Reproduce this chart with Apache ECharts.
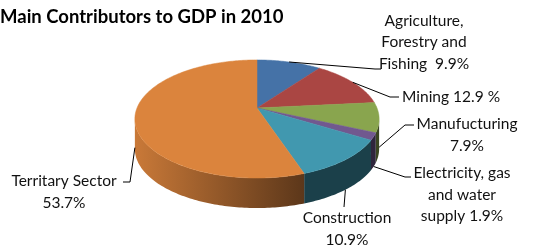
<!DOCTYPE html>
<html>
<head>
    <meta charset="utf-8">
    <script src="https://cdn.jsdelivr.net/npm/echarts@6/dist/echarts.min.js"></script>
    <style>
        *{
            margin:0;
            padding:0;
        }
        body{ background:#fff; }
    </style>
</head>
<body>
    <div id="main" style="width: 546px;height:245px;"></div>
    <script type="text/javascript">

    // data
    var names = ['Agriculture,\nForestry and\nFishing  ', 'Mining ', 'Manufucturing\n', 'Electricity, gas\nand water\nsupply ', 'Construction\n', 'Territary Sector\n'];
    var values = [9.9, 12.9, 7.9, 1.9, 10.9, 53.7];
    var suffix = ['%', ' %', '%', '%', '%', '%'];
    var colors = ['#4572a7', '#aa4643', '#89a54e', '#71588f', '#4198af', '#db843d'];

    // layout of the fake 3d pie (perspective ellipse)
    var CX = 257, CY = 108, RX = 120, RY = 57, K = 0.186, DEPTH = 30;
    var FONT = 'Lato';

    // label boxes: center of text block, leader elbow and end
    var labelPos = [[424, 42], [402, 97], [467, 135], [462, 194.5], [347, 229], [64, 192]];
    var labelAlign = ['center', 'left', 'center', 'center', 'center', 'center'];
    var elbows = [[375, 69], [390, 97], [405, 125], [405, 177], [344, 207], [130, 182]];
    var ends = [[381, 69], [399, 97], [414, 125], [411, 177], [344, 207], [123, 182]];

    var total = values.reduce(function (a, b) { return a + b; }, 0);
    var angles = [];
    var acc = 0;
    values.forEach(function (v) {
        var a0 = acc / total * Math.PI * 2;
        acc += v;
        angles.push([a0, acc / total * Math.PI * 2]);
    });

    // angle measured clockwise from 12 o'clock
    function pt(t, dy) {
        var u = Math.sin(t), v = Math.cos(t);
        var d = 1 + K * v;
        return [CX + RX * u / d, CY - RY * v / d + (dy || 0)];
    }
    function arc(t0, t1, dy) {
        var pts = [];
        var n = Math.max(2, Math.ceil((t1 - t0) / (Math.PI / 180)));
        for (var i = 0; i <= n; i++) {
            pts.push(pt(t0 + (t1 - t0) * i / n, dy));
        }
        return pts;
    }
    function shade(hex, f) {
        var c = echarts.color.parse(hex);
        return 'rgb(' + Math.round(c[0] * f) + ',' + Math.round(c[1] * f) + ',' + Math.round(c[2] * f) + ')';
    }
    function shadeAt(x) {
        // lighter on the left of the rim, dark on the right
        var f = 0.92 - (x - 135) / (300 - 135) * 0.5;
        return Math.max(0.42, Math.min(0.92, f));
    }

    var visFrom = Math.acos(-K), visTo = Math.PI * 2 - Math.acos(-K);

    function renderSide(params, api) {
        var i = params.dataIndex;
        var t0 = Math.max(angles[i][0], visFrom), t1 = Math.min(angles[i][1], visTo);
        if (t1 <= t0) return;
        var top = arc(t0, t1, 0);
        var bot = arc(t0, t1, DEPTH).reverse();
        var xs = top.map(function (p) { return p[0]; });
        var x0 = Math.min.apply(null, xs), x1 = Math.max.apply(null, xs);
        var cL = shade(colors[i], shadeAt(x0)), cR = shade(colors[i], shadeAt(x1));
        return {
            type: 'polygon',
            shape: { points: top.concat(bot) },
            style: {
                fill: new echarts.graphic.LinearGradient(x0, 0, x1, 0, [
                    { offset: 0, color: cL }, { offset: 1, color: cR }
                ], true)
            }
        };
    }

    function renderTop(params, api) {
        var i = params.dataIndex;
        var pts = [[CX, CY]].concat(arc(angles[i][0], angles[i][1], 0));
        return {
            type: 'polygon',
            shape: { points: pts },
            style: { fill: colors[i], stroke: colors[i], lineWidth: 0.5 }
        };
    }

    function renderLabel(params, api) {
        var i = params.dataIndex;
        var mid = (angles[i][0] + angles[i][1]) / 2;
        var s = pt(mid, Math.cos(mid) < 0 ? DEPTH : 0);
        var txt = names[i] + api.value(0).toFixed(1) + suffix[i];
        return {
            type: 'group',
            children: [{
                type: 'polyline',
                shape: { points: [s, elbows[i], ends[i]] },
                style: { stroke: '#000', lineWidth: 1, fill: null }
            }, {
                type: 'text',
                x: labelPos[i][0],
                y: labelPos[i][1],
                style: {
                    text: txt,
                    fill: '#111',
                    font: '15.5px ' + FONT,
                    lineHeight: 21.5,
                    align: labelAlign[i],
                    verticalAlign: 'middle'
                }
            }]
        };
    }

    var myChart = echarts.init(document.getElementById('main'));

    myChart.setOption({
        animation: false,
        title: {
            text: 'Main Contributors to GDP in 2010',
            left: 0,
            top: 8,
            padding: 0,
            textStyle: { fontFamily: FONT, fontWeight: 'bold', fontSize: 18.5, color: '#000' }
        },
        series: [
            { type: 'custom', coordinateSystem: 'none', z: 1, renderItem: renderSide, data: values },
            { type: 'custom', coordinateSystem: 'none', z: 2, renderItem: renderTop, data: values },
            { type: 'custom', coordinateSystem: 'none', z: 3, renderItem: renderLabel, data: values }
        ]
    });
</script>
</body>
</html>
